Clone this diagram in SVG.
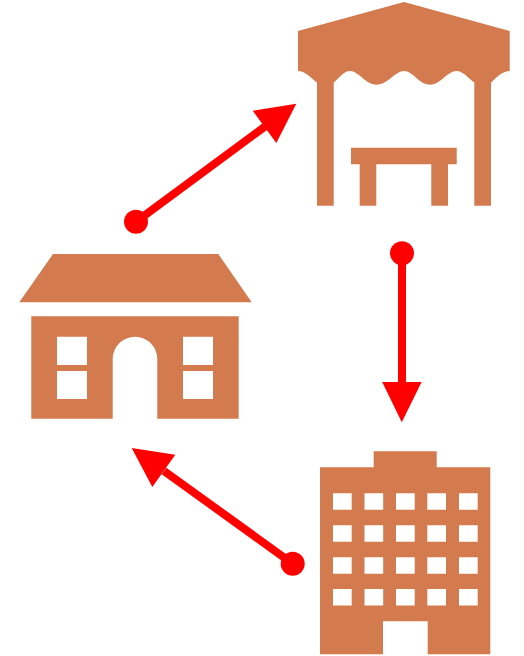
<svg xmlns="http://www.w3.org/2000/svg" width="524" height="656" viewBox="0 0 524 656">
<style>
.b{fill:#d37a4e;fill-rule:evenodd}
.l{stroke:#f00;stroke-width:8;fill:none}
.h,.d{fill:#f00}
</style>
<rect width="524" height="656" fill="#fff"/>
<g id="pavilion">
<path class="b" d="M404 2L509.700 31V71C503 71 498 76 491 82.700V205.700H474.300V82.500C468 78 463 71 456.700 71C447 71 441 84.700 430 84.700C419 84.700 413 71 404 71C395 71 388 84.700 376.700 84.700C365 84.700 359 71 350 71C344 71 340 77 333.700 82.700V205.700H317V82.700C310 77 305 71 298 71V31Z"/>
<path class="b" d="M351 147.700H456.700V164.300H448V205.700H431.300V164.300H376.300V205.700H359.700V164.300H351Z"/>
</g>
<g id="house">
<path class="b" d="M53 254H218.300L251.700 302.300H19.300Z"/>
<path class="b" d="M31.300 316.300H238.700V418.700H157.300V359A22.300 22.300 0 0 0 112.700 359V418.700H31.300ZM57 336.700V365H87V336.700ZM57 371V399H87V371ZM183 336.700V365H213V336.700ZM183 371V399H213V371Z"/>
</g>
<g id="office">
<path class="b" d="M373.700 451.300H436.700V467.300H490.300V654.300H427.700V621.300H383V654.300H320V467.300H373.700ZM333 493.300v16.400h18.700v-16.400ZM364.500 493.300v16.400h18.700v-16.400ZM396 493.300v16.400h18.700v-16.400ZM427.300 493.300v16.400h18.700v-16.400ZM459 493.300v16.400h18.700v-16.400ZM333 525.300v16.400h18.700v-16.400ZM364.500 525.300v16.400h18.700v-16.400ZM396 525.300v16.400h18.700v-16.400ZM427.300 525.300v16.400h18.700v-16.400ZM459 525.300v16.400h18.700v-16.400ZM333 557.300v16.400h18.700v-16.400ZM364.500 557.300v16.400h18.700v-16.400ZM396 557.300v16.400h18.700v-16.400ZM427.300 557.300v16.400h18.700v-16.400ZM459 557.300v16.400h18.700v-16.400ZM333 589v16.400h18.700V589ZM364.500 589v16.400h18.700V589ZM396 589v16.400h18.700V589ZM427.300 589v16.400h18.700V589ZM459 589v16.400h18.700V589Z"/>
</g>
<g id="connectors">
<g id="house-to-pavilion">
<line class="l" x1="136" y1="221.700" x2="265" y2="126.500"/>
<circle class="d" cx="136" cy="221.700" r="12"/>
<polygon class="h" points="296.300,103.700 252.700,110.700 276.300,143"/>
</g>
<g id="pavilion-to-office">
<line class="l" x1="402" y1="253.300" x2="402" y2="383"/>
<circle class="d" cx="402" cy="253.300" r="12"/>
<polygon class="h" points="401.800,422.300 382.200,382 421.600,382"/>
</g>
<g id="office-to-house">
<line class="l" x1="292.700" y1="563.700" x2="164" y2="471"/>
<circle class="d" cx="292.700" cy="563.700" r="12"/>
<polygon class="h" points="131.700,448 175.300,454.700 152.300,487"/>
</g>
</g>
</svg>
